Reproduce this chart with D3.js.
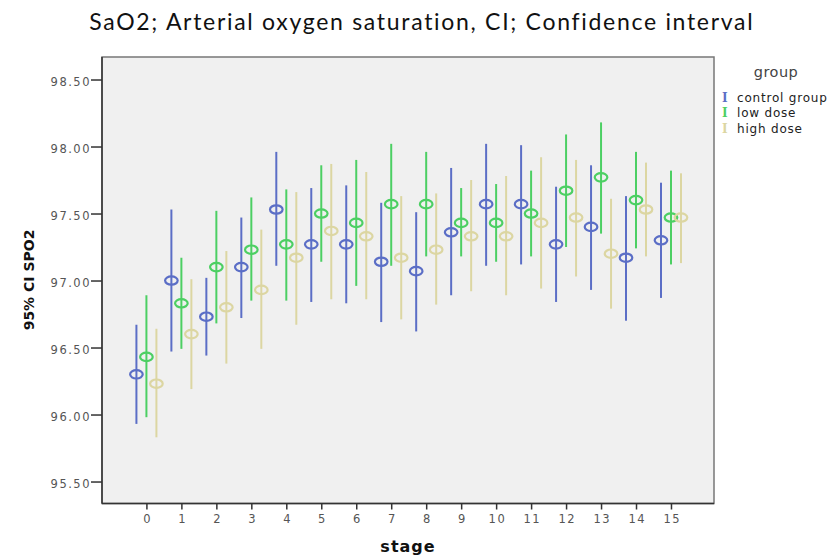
<!DOCTYPE html>
<html lang="en">
<head>
  <meta charset="UTF-8">
  <title>95% CI SPO2 by stage</title>
  <style>
    body {
      margin: 0;
      background: #fff;
    }
    svg {
      display: block;
    }
    .tick text {
      font-family: "DejaVu Sans", sans-serif;
      font-size: 11.5px;
      letter-spacing: 1.5px;
      fill: #555;
    }
  </style>
  <script src="https://d3js.org/d3.v7.min.js"></script>
</head>
<body>

<svg width="837" height="556"></svg>

<script>
  const stages = d3.range(0, 16);
  const groups = ["control group", "low dose", "high dose"];
  const yTicks = [95.5, 96.0, 96.5, 97.0, 97.5, 98.0, 98.5];

  const controlMean  = [96.30, 97.00, 96.73, 97.10, 97.53, 97.27, 97.27, 97.14, 97.07, 97.36, 97.57, 97.57, 97.27, 97.40, 97.17, 97.30];
  const controlLower = [95.93, 96.47, 96.44, 96.72, 97.11, 96.84, 96.83, 96.69, 96.62, 96.89, 97.11, 97.12, 96.84, 96.93, 96.70, 96.87];
  const controlUpper = [96.67, 97.53, 97.02, 97.47, 97.96, 97.69, 97.71, 97.58, 97.51, 97.84, 98.02, 98.01, 97.70, 97.86, 97.63, 97.73];

  const lowMean  = [96.43, 96.83, 97.10, 97.23, 97.27, 97.50, 97.43, 97.57, 97.57, 97.43, 97.43, 97.50, 97.67, 97.77, 97.60, 97.47];
  const lowLower = [95.98, 96.49, 96.68, 96.85, 96.85, 97.14, 96.96, 97.11, 97.18, 97.18, 97.14, 97.18, 97.25, 97.35, 97.24, 97.12];
  const lowUpper = [96.89, 97.17, 97.52, 97.62, 97.68, 97.86, 97.90, 98.02, 97.96, 97.69, 97.72, 97.82, 98.09, 98.18, 97.96, 97.82];

  const highMean  = [96.23, 96.60, 96.80, 96.93, 97.17, 97.37, 97.33, 97.17, 97.23, 97.33, 97.33, 97.43, 97.47, 97.20, 97.53, 97.47];
  const highLower = [95.83, 96.19, 96.38, 96.49, 96.67, 96.86, 96.86, 96.71, 96.82, 96.92, 96.89, 96.94, 97.03, 96.79, 97.18, 97.13];
  const highUpper = [96.64, 97.01, 97.22, 97.38, 97.66, 97.87, 97.81, 97.63, 97.65, 97.75, 97.78, 97.92, 97.90, 97.61, 97.88, 97.80];

  const colors = ["#5b6ec6", "#4ccf63", "#dcd6a2"];

  const series = [
    { name: groups[0], mean: controlMean, lower: controlLower, upper: controlUpper },
    { name: groups[1], mean: lowMean, lower: lowLower, upper: lowUpper },
    { name: groups[2], mean: highMean, lower: highLower, upper: highUpper }
  ];

  const svg = d3.select("svg");
  const plot = { left: 102, right: 714, top: 57, bottom: 503.5 };

  const x = d3.scaleLinear()
    .domain([-1.27, 16.23])
    .range([plot.left, plot.right]);

  const y = d3.scaleLinear()
    .domain([95.336, 98.668])
    .range([plot.bottom, plot.top]);

  const offset = d3.scalePoint()
    .domain(groups)
    .range([-10, 10]);

  const color = d3.scaleOrdinal()
    .domain(groups)
    .range(colors);

  // title: ~23px, small letter spacing so it spans the original width
  const titleText = "SaO2; Arterial oxygen saturation, CI; Confidence interval";
  const title = svg.append("text")
    .attr("x", 421)
    .attr("y", 30)
    .attr("text-anchor", "middle")
    .style("font-family", "Lato, sans-serif")
    .style("font-size", "23px")
    .style("fill", "#111")
    .text(titleText);
  const tw = title.node().getComputedTextLength();
  const ls = Math.max(0, (665 - tw) / titleText.length);
  title.style("letter-spacing", ls.toFixed(2) + "px")
    .attr("dx", (ls / 2).toFixed(2));

  // plot background + frame
  svg.append("rect")
    .attr("x", plot.left)
    .attr("y", plot.top)
    .attr("width", plot.right - plot.left)
    .attr("height", plot.bottom - plot.top)
    .attr("fill", "#f0f0f0")
    .attr("stroke", "#777")
    .attr("stroke-width", 1.5);

  // axes
  const yAxis = d3.axisLeft(y)
    .tickValues(yTicks)
    .tickSize(11)
    .tickPadding(0)
    .tickFormat(d3.format(".2f"));

  svg.append("g")
    .attr("transform", `translate(${plot.left},0)`)
    .call(yAxis)
    .call(g => g.select(".domain").attr("d", `M0,${plot.top}V${plot.bottom}`).attr("stroke", "#333").attr("stroke-width", 1.5))
    .call(g => g.selectAll(".tick line").attr("stroke", "#333").attr("stroke-width", 1.5))
    .call(g => g.selectAll(".tick text").attr("dy", "0.5em"));

  const xAxis = d3.axisBottom(x)
    .tickValues(stages)
    .tickSize(6)
    .tickPadding(5)
    .tickFormat(d3.format("d"));

  svg.append("g")
    .attr("transform", `translate(0,${plot.bottom})`)
    .call(xAxis)
    .call(g => g.select(".domain").attr("d", `M${plot.left},0H${plot.right}`).attr("stroke", "#333").attr("stroke-width", 1.5))
    .call(g => g.selectAll(".tick line").attr("stroke", "#333").attr("stroke-width", 1.5))
    .call(g => g.selectAll(".tick text").attr("dx", "0.75px"));

  // axis titles
  svg.append("text")
    .attr("transform", `translate(34,280) rotate(-90)`)
    .attr("text-anchor", "middle")
    .style("font-family", "'DejaVu Sans', sans-serif")
    .style("font-weight", "bold")
    .style("font-size", "14px")
    .style("fill", "#111")
    .text("95% CI SPO2");

  svg.append("text")
    .attr("x", 408)
    .attr("y", 552)
    .attr("text-anchor", "middle")
    .style("font-family", "'DejaVu Sans', sans-serif")
    .style("font-weight", "bold")
    .style("font-size", "16px")
    .style("letter-spacing", "1px")
    .style("fill", "#111")
    .text("stage");

  // error bars
  const marks = svg.append("g");

  series.forEach(s => {
    const g = marks.append("g")
      .attr("stroke", color(s.name))
      .attr("fill", "none");

    const px = i => x(stages[i]) + offset(s.name);

    g.selectAll("line")
      .data(stages)
      .join("line")
        .attr("x1", (d, i) => px(i))
        .attr("x2", (d, i) => px(i))
        .attr("y1", (d, i) => y(s.lower[i]))
        .attr("y2", (d, i) => y(s.upper[i]))
        .attr("stroke-width", 2);

    g.selectAll("ellipse")
      .data(stages)
      .join("ellipse")
        .attr("cx", (d, i) => px(i))
        .attr("cy", (d, i) => y(s.mean[i]))
        .attr("rx", 6.3)
        .attr("ry", 4.2)
        .attr("stroke-width", 2.2);
  });

  // legend
  const legend = svg.append("g")
    .attr("transform", "translate(722,0)")
    .style("font-family", "'DejaVu Sans', sans-serif")
    .style("font-size", "12px");

  legend.append("text")
    .attr("x", 54)
    .attr("y", 77)
    .attr("text-anchor", "middle")
    .style("fill", "#444")
    .style("font-size", "14.5px")
    .style("letter-spacing", "0.5px")
    .text("group");

  const item = legend.selectAll("g.item")
    .data(groups)
    .join("g")
      .attr("class", "item")
      .attr("transform", (d, i) => `translate(0,${97 + i * 15.5})`);

  item.append("text")
    .attr("x", 0)
    .attr("y", 4.5)
    .style("fill", d => color(d))
    .style("font-family", "'DejaVu Serif', serif")
    .style("font-weight", "bold")
    .style("font-size", "12px")
    .text("I");

  item.append("text")
    .attr("x", 15)
    .attr("y", 4.5)
    .style("fill", "#222")
    .style("letter-spacing", "0.8px")
    .text(d => d);
</script>

</body>
</html>
